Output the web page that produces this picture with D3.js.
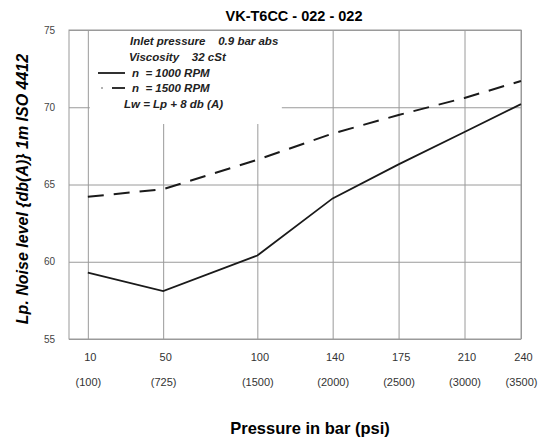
<!DOCTYPE html>
<html lang="en">
<head>
<meta charset="UTF-8">
<title>VK-T6CC noise</title>
<script src="https://d3js.org/d3.v7.min.js"></script>
<style>
  body { margin: 0; background: #fff; }
  text { font-family: "Liberation Sans", Arial, Helvetica, sans-serif; }
</style>
</head>
<body>
<svg id="chart" width="539" height="438"></svg>
<script>
// pressure ticks (bar) and matching psi labels
var barTicks = [10, 50, 100, 140, 175, 210, 240];
var psiLabels = ["(100)", "(725)", "(1500)", "(2000)", "(2500)", "(3000)", "(3500)"];
var noiseTicks = [55, 60, 65, 70, 75];
// noise level Lp, db(A)
var rpm1000 = [59.3, 58.1, 60.4, 64.1, 66.3, 68.4, 70.2];
var rpm1500 = [64.2, 64.7, 66.6, 68.3, 69.5, 70.6, 71.7];

var svg = d3.select("#chart");
var pLeft = 69, pRight = 521, pTop = 30, pBottom = 339;

var x = d3.scaleLinear().domain([0, 240]).range([pLeft, pRight]);
var y = d3.scaleLinear().domain([55, 75]).range([pBottom, pTop]);

var gridColor = "#9a9a9a";

// vertical grid + bar labels
var xAxis = svg.append("g")
    .attr("transform", "translate(0," + pBottom + ")")
    .call(d3.axisBottom(x).tickValues(barTicks).tickSize(-(pBottom - pTop)).tickPadding(14));
xAxis.select(".domain").remove();
xAxis.selectAll(".tick line").attr("stroke", gridColor).attr("stroke-width", 1);
xAxis.selectAll(".tick text")
    .attr("dx", 2)
    .attr("font-size", "11px").attr("fill", "#333")
    .style("font-family", "'Liberation Sans', Arial, sans-serif");
xAxis.selectAll(".tick").append("text")
    .attr("y", 47)
    .attr("fill", "#333")
    .attr("font-size", "11px")
    .attr("text-anchor", "middle")
    .style("font-family", "'Liberation Sans', Arial, sans-serif")
    .text((d, i) => psiLabels[i]);

// horizontal grid + noise labels
var yAxis = svg.append("g")
    .attr("transform", "translate(" + pLeft + ",0)")
    .call(d3.axisLeft(y).tickValues(noiseTicks).tickSize(-(pRight - pLeft)).tickPadding(14));
yAxis.select(".domain").remove();
yAxis.selectAll(".tick line").attr("stroke", gridColor).attr("stroke-width", 1);
yAxis.selectAll(".tick text")
    .attr("font-size", "10px").attr("fill", "#444")
    .style("font-family", "'Liberation Sans', Arial, sans-serif");

// legend box hides the grid behind it
svg.append("rect")
    .attr("x", x(10) + 2).attr("y", pTop + 1)
    .attr("width", 192).attr("height", 93)
    .attr("fill", "#fff");

// frame
svg.append("rect")
    .attr("x", pLeft).attr("y", pTop)
    .attr("width", pRight - pLeft).attr("height", pBottom - pTop)
    .attr("fill", "none").attr("stroke", gridColor).attr("stroke-width", 1);

var line = d3.line()
    .x((d, i) => x(barTicks[i]))
    .y(d => y(d));

svg.append("path")
    .datum(rpm1000)
    .attr("d", line)
    .attr("fill", "none")
    .attr("stroke", "#1a1a1a")
    .attr("stroke-width", 1.8);

svg.append("path")
    .datum(rpm1500)
    .attr("d", line)
    .attr("fill", "none")
    .attr("stroke", "#1a1a1a")
    .attr("stroke-width", 2)
    .attr("stroke-dasharray", "16,10");

// legend
var legend = svg.append("g")
    .attr("font-size", "11.5px")
    .attr("font-style", "italic")
    .attr("font-weight", "bold")
    .attr("fill", "#222");
legend.append("text").attr("x", 130).attr("y", 45).text("Inlet pressure    0.9 bar abs").attr("xml:space", "preserve");
legend.append("text").attr("x", 129).attr("y", 61).text("Viscosity    32 cSt").attr("xml:space", "preserve");
legend.append("line").attr("x1", 98).attr("x2", 125).attr("y1", 73).attr("y2", 73)
    .attr("stroke", "#1a1a1a").attr("stroke-width", 1.8);
legend.append("text").attr("x", 132).attr("y", 77).text("n  = 1000 RPM").attr("xml:space", "preserve");
legend.append("line").attr("x1", 101).attr("x2", 103).attr("y1", 88).attr("y2", 88)
    .attr("stroke", "#999").attr("stroke-width", 1.5);
legend.append("line").attr("x1", 112).attr("x2", 125).attr("y1", 88).attr("y2", 88)
    .attr("stroke", "#1a1a1a").attr("stroke-width", 1.8);
legend.append("text").attr("x", 132).attr("y", 92).text("n  = 1500 RPM").attr("xml:space", "preserve");
legend.append("text").attr("x", 124).attr("y", 108).text("Lw = Lp + 8 db (A)");

// titles
svg.append("text")
    .attr("x", 294).attr("y", 21)
    .attr("text-anchor", "middle")
    .attr("font-size", "14.5px").attr("font-weight", "bold")
    .text("VK-T6CC - 022 - 022");

svg.append("text")
    .attr("x", 310).attr("y", 434)
    .attr("text-anchor", "middle")
    .attr("font-size", "16.5px").attr("font-weight", "bold")
    .text("Pressure in bar (psi)");

svg.append("text")
    .attr("transform", "translate(28,189) rotate(-90)")
    .attr("text-anchor", "middle")
    .attr("font-size", "16px").attr("font-weight", "bold").attr("font-style", "italic")
    .text("Lp. Noise level {db(A)} 1m ISO 4412");
</script>
</body>
</html>
